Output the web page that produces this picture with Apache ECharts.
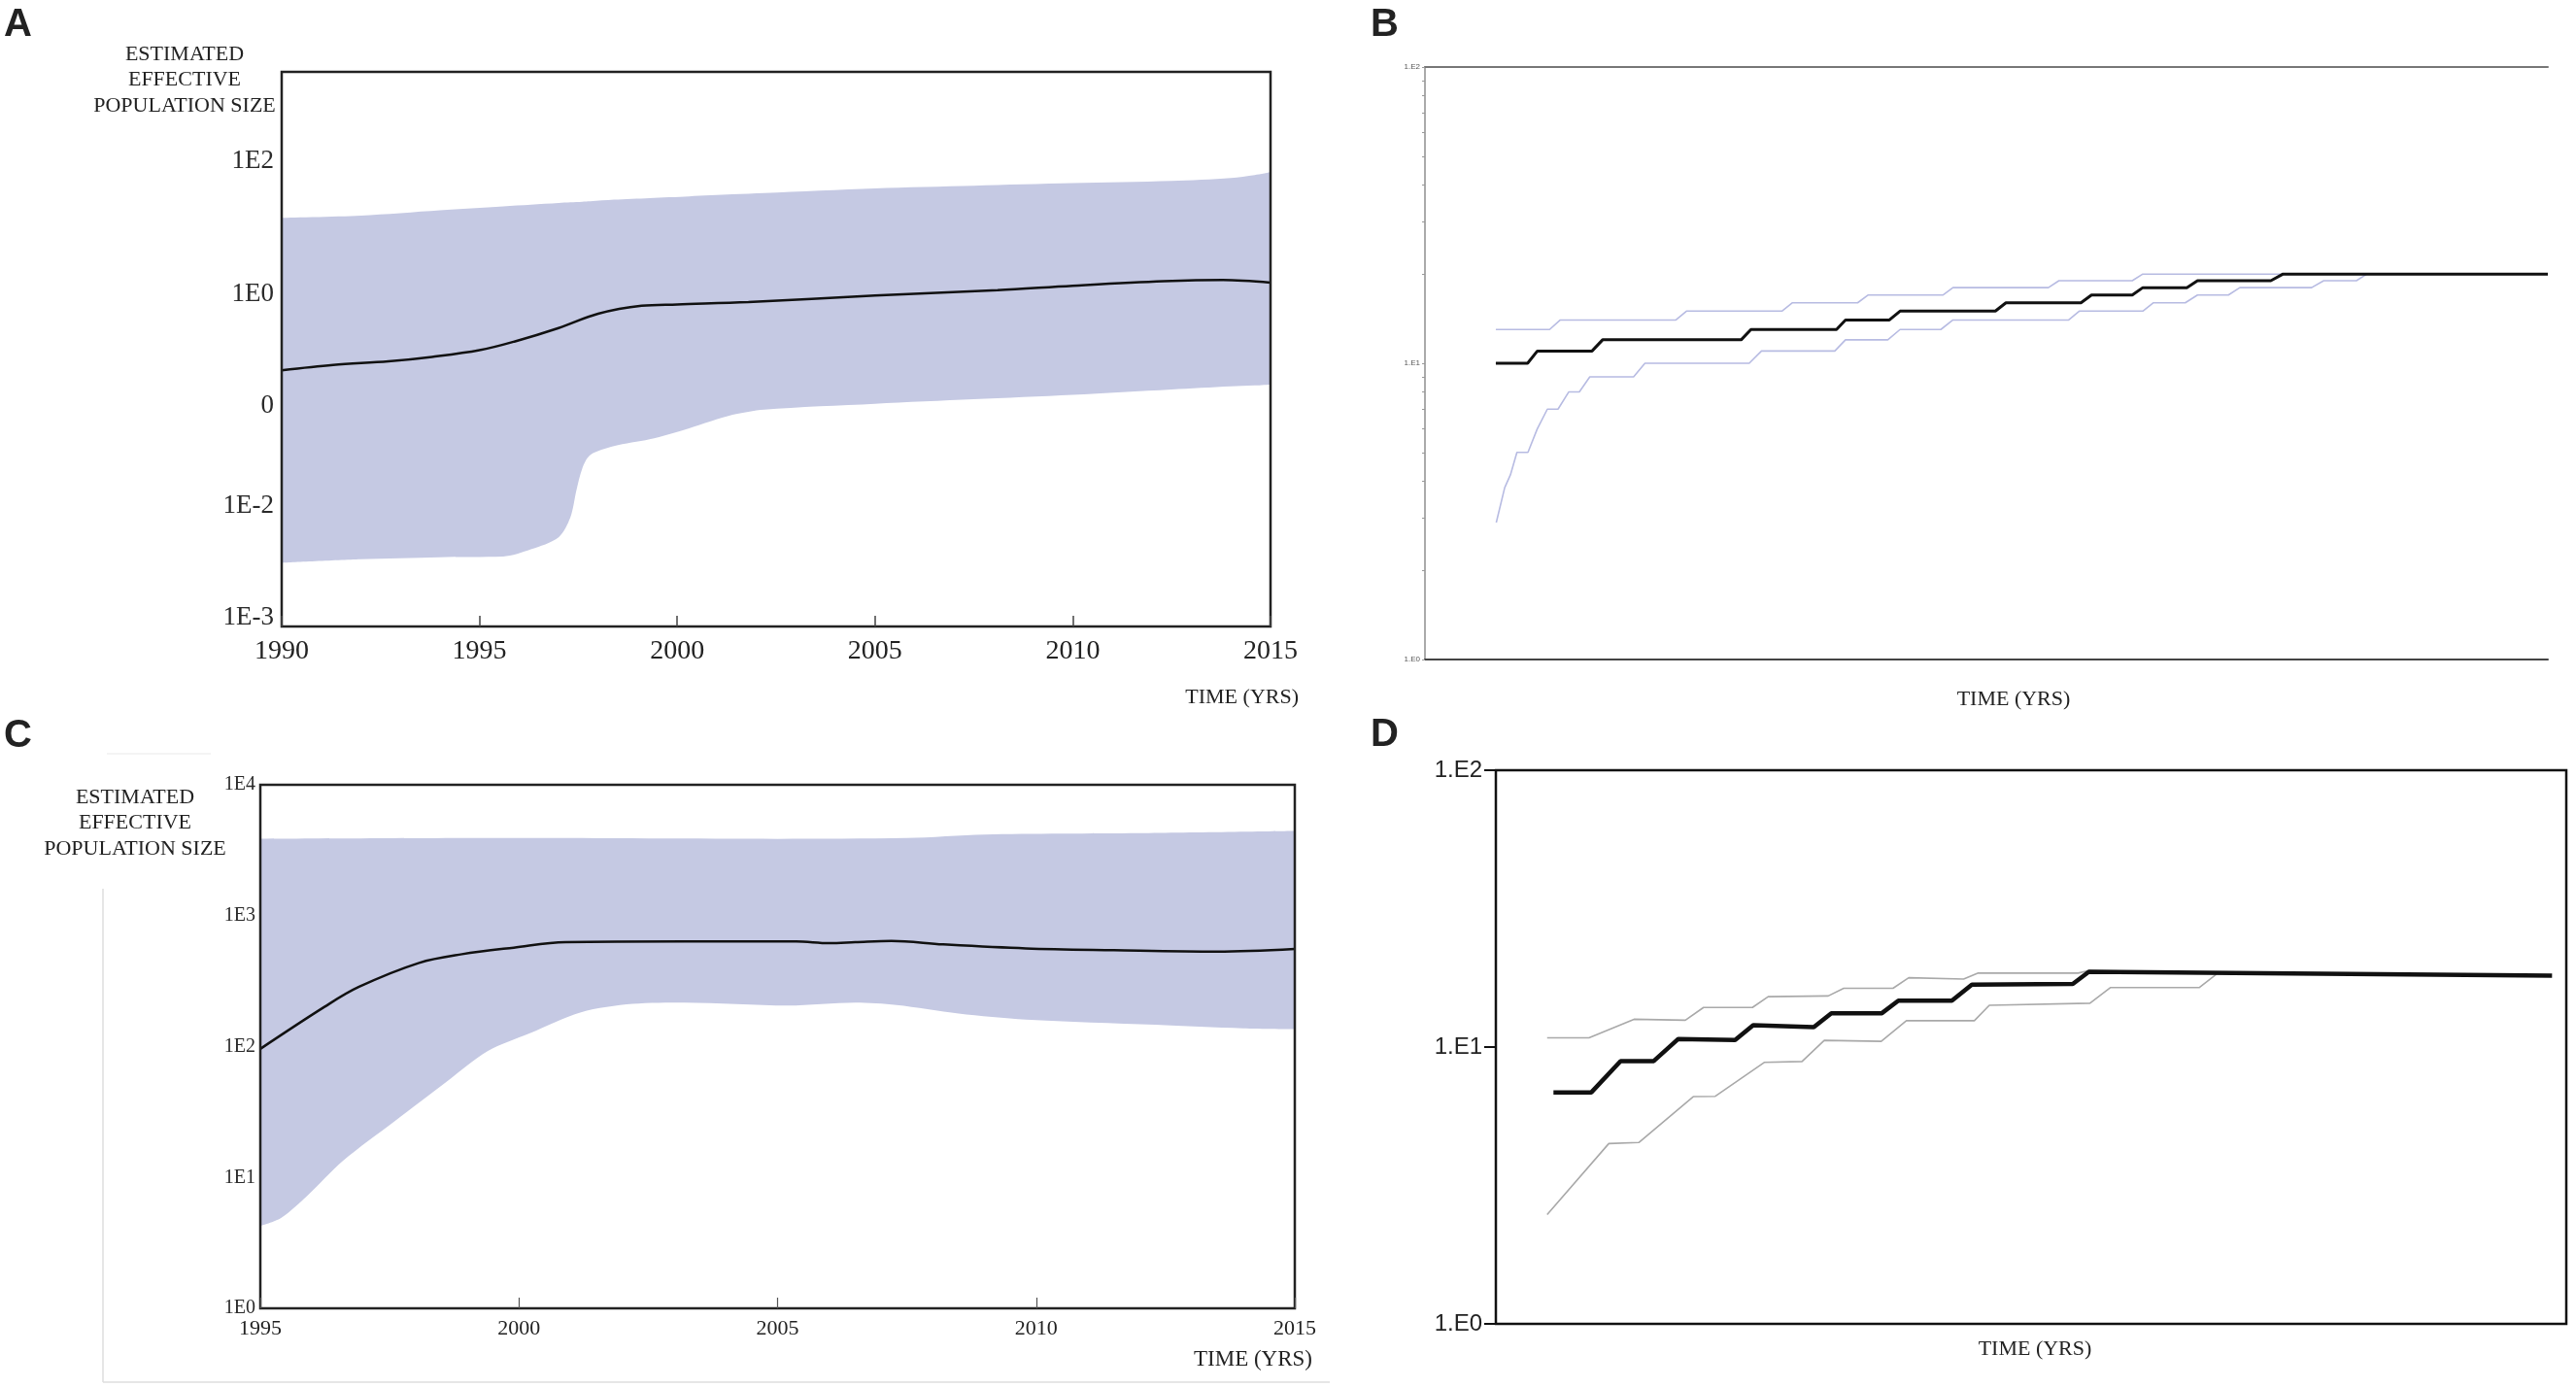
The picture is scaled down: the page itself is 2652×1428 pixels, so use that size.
<!DOCTYPE html>
<html>
<head>
<meta charset="utf-8">
<title>Effective population size</title>
<script src="https://cdn.jsdelivr.net/npm/echarts@6.0.0/dist/echarts.min.js"></script>
<style>
  html, body { margin: 0; padding: 0; background: #fff; }
  #main { width: 2652px; height: 1428px; }
</style>
</head>
<body>
<div id="main"></div>
<script>
// ---- panel A : skyline with 95% band, years 1990-2015 ----
var aMedYears = [1990, 1991.3, 1992.7, 1993.8, 1995, 1995.9, 1997, 1998, 1999.1, 2000, 2001.8, 2005, 2008.1, 2010, 2012.3, 2013.8, 2015];
var aMedian   = [0.0736, 0.0885, 0.100, 0.1167, 0.1469, 0.1995, 0.3162, 0.517, 0.6808, 0.7129, 0.7709, 0.9705, 1.167, 1.358, 1.585, 1.660, 1.514];
var aBandYears = [1990, 1992, 1994, 1995.6, 1996.3, 1997.0, 1997.3, 1997.45, 1997.6, 1997.8, 1998.4, 1999.3, 2000.3, 2001.4, 2002.2, 2005, 2007.5, 2010, 2012.5, 2014, 2014.6, 2015];
var aUpper = [14.03, 15.14, 18.20, 20.89, 22.13, 23.44, 23.99, 24.27, 24.55, 24.83, 26.30, 27.86, 29.51, 31.62, 33.11, 38.90, 42.66, 46.45, 50.12, 55.59, 61.66, 68.08];
var aLower = [9.70e-5, 1.096e-4, 1.175e-4, 1.202e-4, 1.538e-4, 2.328e-4, 4.645e-4, 1.167e-3, 2.512e-3, 3.981e-3, 5.408e-3, 6.808e-3, 0.01, 0.01585, 0.01905, 0.02328, 0.02710, 0.03162, 0.03802, 0.04236, 0.04365, 0.04498];
// tick labels as printed in the figure (their spacing is uneven)
var aTickVals = [100, 1, 0.02153, 6.808e-4, 1.469e-5];
var aTickText = ['1E2', '1E0', '0', '1E-2', '1E-3'];

// ---- panel B : stepped skyline, no time labels (x in % of span) ----
var bMedX = [6.31, 9.14, 10.01, 14.88, 15.82, 28.16, 29.03, 36.65, 37.45, 41.36, 42.31, 50.8, 51.74, 58.42, 59.36, 62.99, 63.93, 67.85, 68.8, 75.33, 76.42, 100];
var bMedian = [10, 10, 11, 11, 12, 12, 13, 13, 14, 14, 15, 15, 16, 16, 17, 17, 18, 18, 19, 19, 20, 20];
var bUpX = [6.31, 11.1, 12.05, 22.35, 23.29, 31.79, 32.73, 38.53, 39.48, 46.15, 47.02, 55.52, 56.46, 62.99, 63.93, 80];
var bUpper = [13, 13, 14, 14, 15, 15, 16, 16, 17, 17, 18, 18, 19, 19, 20, 20];
var bLowX = [6.35, 7.1, 7.61, 8.19, 9.17, 10.0, 10.9, 11.85, 12.8, 13.75, 14.68, 18.58, 19.59, 28.88, 29.97, 36.5, 37.45, 41.22, 42.31, 45.94, 47.02, 57.33, 58.27, 63.93, 64.88, 67.71, 68.8, 71.55, 72.57, 78.96, 80.04, 82.95, 83.89];
var bLower = [2.9, 3.8, 4.2, 5, 5, 6, 7, 7, 8, 8, 9, 9, 10, 10, 11, 11, 12, 12, 13, 13, 14, 14, 15, 15, 16, 16, 17, 17, 18, 18, 19, 19, 20];
var bTicks = [1, 2, 3, 4, 5, 6, 7, 8, 9, 10, 20, 30, 40, 50, 60, 70, 80, 90, 100];

// ---- panel C : skyline with band, years 1995-2015 ----
var cMedYears = [1995, 1996.24, 1996.9, 1998.07, 1998.9, 1999.9, 2000.9, 2003.2, 2005.36, 2006.0, 2006.5, 2007.2, 2008.2, 2009.8, 2011.5, 2013.5, 2015];
var cMedian = [96, 201, 285, 436, 508, 570, 627, 635, 635, 617, 627, 641, 603, 562, 545, 532, 557];
var cUpYears = [1995, 2000, 2005, 2007.5, 2009, 2012, 2015];
var cUpper = [3864, 3917, 3864, 3917, 4169, 4266, 4436];
var cLowYears = [1995, 1995.4, 1995.9, 1996.6, 1997.6, 1998.6, 1999.4, 2000.2, 2001.2, 2002.2, 2003.2, 2005.2, 2006.5, 2007.3, 2008.5, 2009.8, 2012.3, 2014, 2015];
var cLower = [4.26, 4.89, 7.19, 13.4, 26.9, 53.8, 92.5, 126, 183, 212, 217, 206, 217, 208, 179, 161, 147, 138, 136];

// ---- panel D : stepped skyline, no time labels (x in % of span) ----
var dMedX = [5.38, 8.92, 11.65, 14.75, 17.04, 22.35, 24.04, 29.7, 31.34, 36.06, 37.6, 42.6, 44.47, 53.9, 55.4, 98.67];
var dMedian = [6.86, 6.86, 8.9, 8.9, 10.7, 10.6, 12.0, 11.8, 13.25, 13.25, 14.7, 14.7, 16.8, 16.9, 18.7, 18.1];
var dUpX = [4.79, 8.70, 12.9, 17.7, 19.4, 23.97, 25.44, 31.05, 32.5, 37.1, 38.57, 43.7, 45.06, 54.4, 55.4, 66.6];
var dUpper = [10.8, 10.8, 12.6, 12.5, 13.9, 13.9, 15.2, 15.3, 16.3, 16.3, 17.8, 17.6, 18.5, 18.5, 18.9, 18.6];
var dLowX = [4.79, 10.55, 13.35, 18.44, 20.5, 25.07, 28.6, 30.68, 36.0, 38.35, 44.7, 46.1, 55.5, 57.4, 65.7, 67.3];
var dLower = [2.48, 4.48, 4.52, 6.62, 6.64, 8.8, 8.87, 10.57, 10.49, 12.45, 12.45, 14.15, 14.4, 16.4, 16.4, 18.3];

var SERIF = '"Liberation Serif", "DejaVu Serif", serif';
var SANS = '"Liberation Sans", Arial, sans-serif';
var BAND = '#c5c9e3';

function pairs(xs, ys) {
    var out = [];
    for (var i = 0; i < xs.length; i++) out.push([xs[i], ys[i]]);
    return out;
}

function aLabel(v) {
    for (var i = 0; i < aTickVals.length; i++) {
        if (Math.abs(Math.log10(v) - Math.log10(aTickVals[i])) < 0.02) return aTickText[i];
    }
    return '';
}

function year(v) { return String(v); }

function hidden(extra) {
    var o = {
        axisLine: { show: false, onZero: false },
        axisTick: { show: false },
        axisLabel: { show: false },
        splitLine: { show: false }
    };
    for (var k in extra) o[k] = extra[k];
    return o;
}

// area trick: band colour under the upper edge, white under the lower edge
function bandSeries(xi, yi, data, color, z) {
    return {
        type: 'line', xAxisIndex: xi, yAxisIndex: yi, data: data,
        smooth: 0.3, showSymbol: false, silent: true,
        lineStyle: { opacity: 0 },
        areaStyle: { color: color, opacity: 1, origin: 'start' },
        z: z
    };
}

function lineSeries(xi, yi, data, color, width, smooth, z) {
    return {
        type: 'line', xAxisIndex: xi, yAxisIndex: yi, data: data,
        smooth: smooth, showSymbol: false, silent: true,
        lineStyle: { color: color, width: width },
        z: z
    };
}

function txt(text, x, y, size, align, family, weight) {
    return {
        type: 'text', x: x, y: y, silent: true,
        style: {
            text: text, fill: '#222',
            font: (weight || 'normal') + ' ' + size + 'px ' + (family || SERIF),
            textAlign: align || 'center', textVerticalAlign: 'middle'
        }
    };
}

var chart = echarts.init(document.getElementById('main'), null, { renderer: 'canvas' });

var option = {
    backgroundColor: '#fff',
    animation: false,
    grid: [
        { left: 290, top: 74, width: 1018, height: 571, show: true, borderColor: '#222', borderWidth: 2.5, z: 10 },
        { left: 1467, top: 69, width: 1156, height: 610 },
        { left: 268, top: 808, width: 1065, height: 539, show: true, borderColor: '#222', borderWidth: 2.5, z: 10 },
        { left: 1540, top: 793, width: 1102, height: 570, show: true, borderColor: '#111', borderWidth: 2.5, z: 10 }
    ],
    xAxis: [
        {
            gridIndex: 0, type: 'value', min: 1990, max: 2015, interval: 5, z: 11,
            axisLine: { show: false, onZero: false },
            axisTick: { show: true, inside: true, length: 11, lineStyle: { color: '#444', width: 1.5 } },
            axisLabel: { formatter: year, fontFamily: SERIF, fontSize: 28, color: '#222', margin: 12 },
            splitLine: { show: false }
        },
        {
            gridIndex: 1, type: 'value', min: 0, max: 100,
            axisLine: { show: true, onZero: false, lineStyle: { color: '#444', width: 2 } },
            axisTick: { show: false }, axisLabel: { show: false }, splitLine: { show: false }
        },
        {
            gridIndex: 1, type: 'value', min: 0, max: 100, position: 'top',
            axisLine: { show: true, onZero: false, lineStyle: { color: '#777', width: 2 } },
            axisTick: { show: false }, axisLabel: { show: false }, splitLine: { show: false }
        },
        {
            gridIndex: 2, type: 'value', min: 1995, max: 2015, interval: 5, z: 11,
            axisLine: { show: false, onZero: false },
            axisTick: { show: true, inside: true, length: 11, lineStyle: { color: '#555', width: 1.2 } },
            axisLabel: { formatter: year, fontFamily: SERIF, fontSize: 22, color: '#222', margin: 10 },
            splitLine: { show: false }
        },
        hidden({ gridIndex: 3, type: 'value', min: 0, max: 100 })
    ],
    yAxis: [
        {
            gridIndex: 0, type: 'log', min: Math.pow(10, -4.967), max: Math.pow(10, 3.333), z: 11,
            axisLine: { show: false, onZero: false },
            axisTick: { show: false },
            axisLabel: { customValues: aTickVals, formatter: aLabel, fontFamily: SERIF, fontSize: 27, color: '#2a2a2a', margin: 8 },
            splitLine: { show: false }
        },
        {
            gridIndex: 1, type: 'log', min: 1, max: 100,
            axisLine: { show: true, onZero: false, lineStyle: { color: '#aaa', width: 2 } },
            axisTick: { show: true, customValues: bTicks, length: 3, lineStyle: { color: '#999', width: 1 } },
            axisLabel: {
                customValues: [1, 10, 100], fontFamily: SANS, fontSize: 8, color: '#555', margin: 5,
                formatter: function (v) { return '1.E' + Math.round(Math.log10(v)); }
            },
            splitLine: { show: false }
        },
        {
            gridIndex: 2, type: 'log', min: 1, max: 10000, z: 11,
            axisLine: { show: false, onZero: false },
            axisTick: { show: false },
            axisLabel: {
                customValues: [1, 10, 100, 1000, 10000], fontFamily: SERIF, fontSize: 20, color: '#2a2a2a', margin: 5,
                formatter: function (v) { return '1E' + Math.round(Math.log10(v)); }
            },
            splitLine: { show: false }
        },
        {
            gridIndex: 3, type: 'log', min: 1, max: 100, z: 11,
            axisLine: { show: false, onZero: false },
            axisTick: { show: true, customValues: [1, 10, 100], length: 12, lineStyle: { color: '#111', width: 2 } },
            axisLabel: {
                customValues: [1, 10, 100], fontFamily: SANS, fontSize: 24, color: '#222', margin: 14,
                formatter: function (v) { return '1.E' + Math.round(Math.log10(v)); }
            },
            splitLine: { show: false }
        }
    ],
    series: [
        // A
        bandSeries(0, 0, pairs(aBandYears, aUpper), BAND, 2),
        bandSeries(0, 0, pairs(aBandYears, aLower), '#fff', 3),
        lineSeries(0, 0, pairs(aMedYears, aMedian), '#111', 2.5, 0.35, 4),
        // B
        lineSeries(1, 1, pairs(bUpX, bUpper), '#b7bbe2', 1.6, false, 2),
        lineSeries(1, 1, pairs(bLowX, bLower), '#b7bbe2', 1.6, false, 2),
        lineSeries(1, 1, pairs(bMedX, bMedian), '#111', 3, false, 4),
        // C
        bandSeries(3, 2, pairs(cUpYears, cUpper), BAND, 2),
        bandSeries(3, 2, pairs(cLowYears, cLower), '#fff', 3),
        lineSeries(3, 2, pairs(cMedYears, cMedian), '#111', 2.5, 0.35, 4),
        // D
        lineSeries(4, 3, pairs(dUpX, dUpper), '#a9a9a9', 1.6, false, 2),
        lineSeries(4, 3, pairs(dLowX, dLower), '#a9a9a9', 1.6, false, 2),
        lineSeries(4, 3, pairs(dMedX, dMedian), '#111', 4.5, false, 4)
    ],
    graphic: [
        // panel letters
        txt('A', 4, 26, 40, 'left', SANS, 'bold'),
        txt('B', 1411, 26, 40, 'left', SANS, 'bold'),
        txt('C', 4, 758, 40, 'left', SANS, 'bold'),
        txt('D', 1411, 757, 40, 'left', SANS, 'bold'),
        // axis titles
        txt('ESTIMATED', 190, 56, 22),
        txt('EFFECTIVE', 190, 82, 22),
        txt('POPULATION SIZE', 190, 109, 22),
        txt('TIME (YRS)', 1337, 718, 22, 'right'),
        txt('TIME (YRS)', 2073, 720, 22),
        txt('ESTIMATED', 139, 821, 22),
        txt('EFFECTIVE', 139, 847, 22),
        txt('POPULATION SIZE', 139, 874, 22),
        txt('TIME (YRS)', 1290, 1400, 23),
        txt('TIME (YRS)', 2095, 1389, 22),
        // faint frame remnants around panel C
        { type: 'line', silent: true, shape: { x1: 106, y1: 915, x2: 106, y2: 1423 }, style: { stroke: '#dedede', lineWidth: 1.5 } },
        { type: 'line', silent: true, shape: { x1: 106, y1: 1423, x2: 1369, y2: 1423 }, style: { stroke: '#dedede', lineWidth: 1.5 } },
        { type: 'line', silent: true, shape: { x1: 110, y1: 776, x2: 217, y2: 776 }, style: { stroke: '#f0f0f0', lineWidth: 1.5 } }
    ]
};

chart.setOption(option);
</script>
</body>
</html>
